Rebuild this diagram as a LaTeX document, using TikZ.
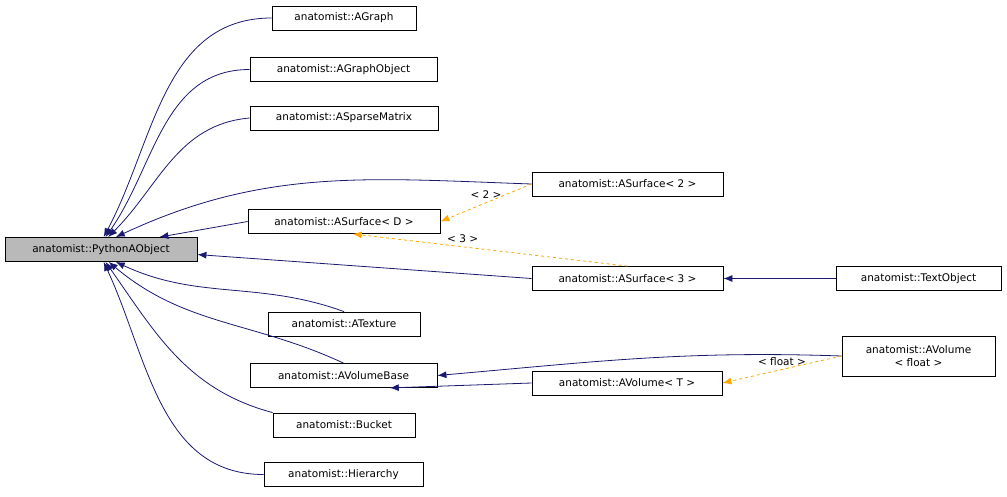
\documentclass[tikz,border=0pt]{standalone}
\usepackage{fontspec}
\setmainfont{DejaVu Sans}
\usetikzlibrary{arrows.meta}
\begin{document}
\begin{tikzpicture}[x=1pt,y=-1pt,
  box/.style={draw,thick,minimum height=24pt,inner sep=3pt,font=\fontsize{10.5}{12.5}\selectfont},
  inh/.style={draw={rgb,255:red,25;green,25;blue,112},thick,-{Latex[length=9pt,width=7pt]}},
  tmpl/.style={draw={rgb,255:red,255;green,165;blue,0},thick,dashed,-{Latex[length=9pt,width=7pt]}},
  lbl/.style={font=\fontsize{10.5}{12.5}\selectfont}]
\useasboundingbox (0,0) rectangle (1007,496);
\node[box,fill=gray!55,minimum width=192pt] (py) at (101,249.5) {anatomist::PythonAObject};
\node[box,minimum width=144pt] (ag) at (344,18) {anatomist::AGraph};
\node[box,minimum width=187pt] (ago) at (343.5,69.5) {anatomist::AGraphObject};
\node[box,minimum width=188pt] (asm) at (344,118) {anatomist::ASparseMatrix};
\node[box,minimum width=192pt] (asd) at (344,221.5) {anatomist::ASurface< D >};
\node[box,minimum width=152pt] (atx) at (344,324) {anatomist::ATexture};
\node[box,minimum width=187pt] (avb) at (343.5,375.5) {anatomist::AVolumeBase};
\node[box,minimum width=142pt] (bk) at (344,425) {anatomist::Bucket};
\node[box,minimum width=159pt] (hi) at (343.5,474.5) {anatomist::Hierarchy};
\node[box,minimum width=191pt] (as2) at (627.5,184) {anatomist::ASurface< 2 >};
\node[box,minimum width=191pt] (as3) at (627.5,278.5) {anatomist::ASurface< 3 >};
\node[box,minimum width=190pt] (avt) at (627,383) {anatomist::AVolume< T >};
\node[box,minimum width=165pt] (to) at (918.5,278.5) {anatomist::TextObject};
\node[box,minimum width=153pt,minimum height=40pt,align=center] (avf) at (918.5,356) {anatomist::AVolume\\< float >};

\draw[inh] (ag.west) to[out=180,in=62] (py.78);
\draw[inh] (ago.west) to[out=180,in=55] (py.70);
\draw[inh] (asm.west) to[out=185,in=45] (py.60);
\draw[inh] (as2.west) to[out=178,in=25] (py.40);
\draw[inh] (asd.west) -- (py.12);
\draw[inh] (as3.west) -- (py.-3);
\draw[inh] (atx.north) to[out=160,in=-25] (py.-40);
\draw[inh] (avb.north) to[out=155,in=-40] (py.-58);
\draw[inh] (bk.north west) to[out=165,in=-55] (py.-70);
\draw[inh] (hi.west) to[out=180,in=-65] (py.-78);
\draw[inh] (to.west) -- (as3.east);
\draw[inh] (avf.west) to[out=178,in=5] (avb.east);
\draw[inh] (avt.west) -- (avb.-15);
\draw[tmpl] (as2.west) -- node[lbl,above=1pt] {< 2 >} (asd.east);
\draw[tmpl] (as3.north) -- node[lbl,above,pos=0.6] {< 3 >} (asd.-55);
\draw[tmpl] (avf.west) -- node[lbl,above] {< float >} (avt.east);
\end{tikzpicture}
\end{document}
